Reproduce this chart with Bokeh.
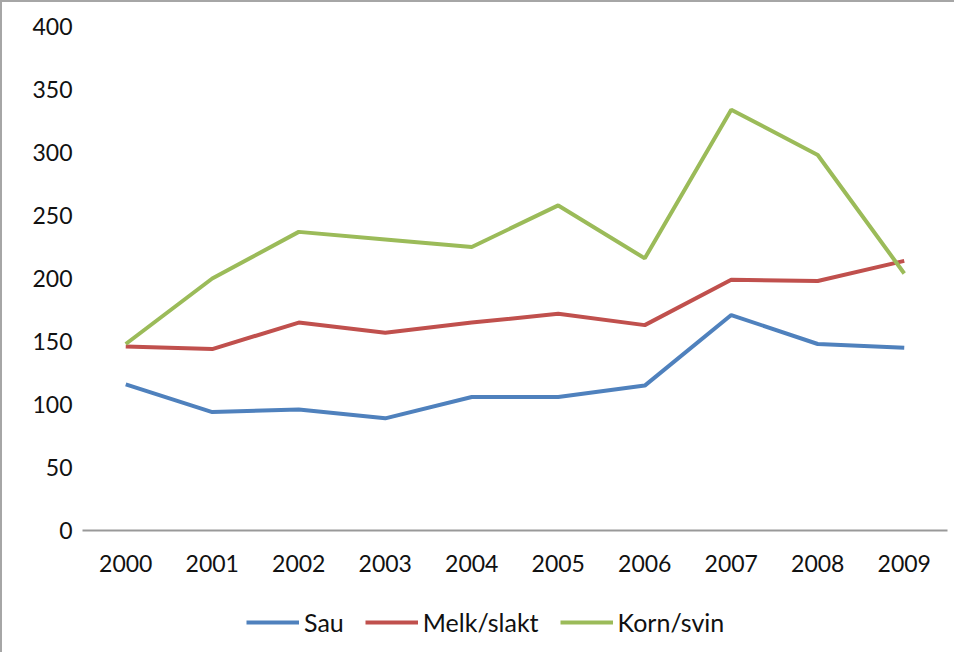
from bokeh.plotting import figure
from bokeh.layouts import column
from bokeh.models import FactorRange, Range1d, FixedTicker, Legend, LegendItem
from bokeh.embed import file_html
from bokeh.resources import INLINE

years = ["2000", "2001", "2002", "2003", "2004", "2005", "2006", "2007", "2008", "2009"]
sau = [116, 94, 96, 89, 106, 106, 115, 171, 148, 145]
melk_slakt = [146, 144, 165, 157, 165, 172, 163, 199, 198, 214]
korn_svin = [148, 200, 237, 231, 225, 258, 216, 334, 298, 204]
y_ticks = [0, 50, 100, 150, 200, 250, 300, 350, 400]
series_names = ["Sau", "Melk/slakt", "Korn/svin"]
colors = ["#4F81BD", "#C0504D", "#9BBB59"]

FONT = "Lato"
TXT = "#111111"

p = figure(
    x_range=FactorRange(*years, range_padding=0),
    y_range=Range1d(0, 400),
    width=952, height=590,
    output_backend="svg", toolbar_location=None,
    min_border_left=80, min_border_right=7,
    min_border_top=24, min_border_bottom=62,
)
p.outline_line_color = None
p.xgrid.grid_line_color = None
p.ygrid.grid_line_color = None
p.background_fill_color = "white"
p.border_fill_color = "white"

for vals, c in zip([sau, melk_slakt, korn_svin], colors):
    p.line(years, vals, line_color=c, line_width=4)

ya = p.yaxis[0]
ya.ticker = FixedTicker(ticks=y_ticks)
ya.axis_line_color = None
ya.major_tick_line_color = None
ya.minor_tick_line_color = None
ya.major_tick_out = 0
ya.major_tick_in = 0
ya.major_label_standoff = 10
ya.major_label_text_font = FONT
ya.major_label_text_font_size = "23px"
ya.major_label_text_color = TXT

xa = p.xaxis[0]
xa.axis_line_color = "#999999"
xa.axis_line_width = 2
xa.major_tick_line_color = None
xa.minor_tick_line_color = None
xa.major_tick_out = 0
xa.major_tick_in = 0
xa.major_label_standoff = 24
xa.major_label_text_font = FONT
xa.major_label_text_font_size = "23px"
xa.major_label_text_color = TXT

# legend strip below the chart
q = figure(
    x_range=Range1d(0, 100), y_range=Range1d(0, 60),
    width=952, height=60,
    output_backend="svg", toolbar_location=None,
    min_border=0,
)
q.axis.visible = False
q.grid.visible = False
q.outline_line_color = None
q.background_fill_color = "white"
q.border_fill_color = "white"

items = []
for name, c in zip(series_names, colors):
    # legend proxies, kept outside the visible range
    r = q.line(x=[-20, -10], y=[-20, -20], line_color=c, line_width=4)
    items.append(LegendItem(label=name, renderers=[r]))

legend = Legend(
    items=items,
    orientation="horizontal",
    location=(164, 15),
    glyph_width=53, glyph_height=24, label_height=24,
    label_standoff=5, spacing=21, padding=0, margin=0,
    border_line_color=None, background_fill_alpha=0,
    label_text_font=FONT, label_text_font_size="25px", label_text_color=TXT,
)
q.add_layout(legend, "center")

layout = column(p, q, spacing=0,
                styles={"border-left": "2px solid #A6A6A6", "border-top": "2px solid #A6A6A6"})

open("out.html", "w").write(file_html(layout, INLINE))
